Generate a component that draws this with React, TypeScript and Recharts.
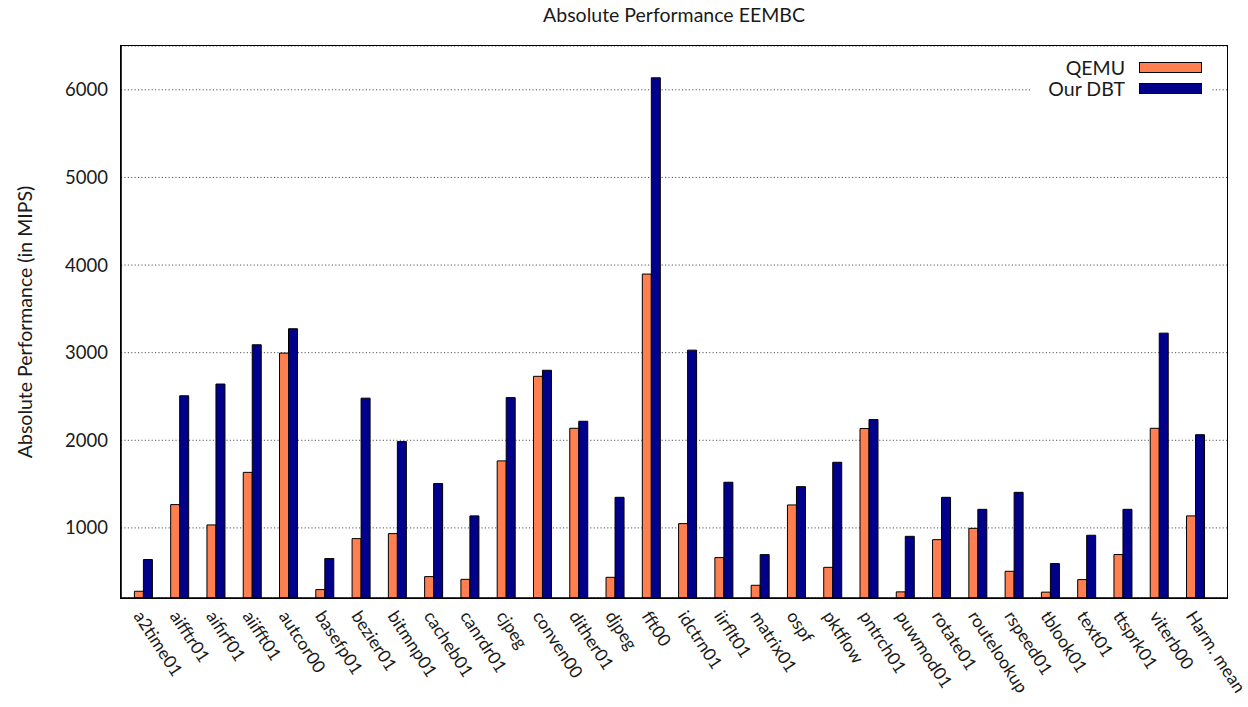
import { BarChart, Bar, XAxis, YAxis, CartesianGrid } from 'recharts'

const CATEGORIES = [
  'a2time01', 'aifftr01', 'aifirf01', 'aiifft01', 'autcor00', 'basefp01', 'bezier01', 'bitmnp01',
  'cacheb01', 'canrdr01', 'cjpeg', 'conven00', 'dither01', 'djpeg', 'fft00', 'idctrn01',
  'iirflt01', 'matrix01', 'ospf', 'pktflow', 'pntrch01', 'puwmod01', 'rotate01', 'routelookup',
  'rspeed01', 'tblook01', 'text01', 'ttsprk01', 'viterb00', 'Harm. mean',
]

const QEMU = [
  277, 1266, 1034, 1634, 2995, 296, 878, 935, 444, 413, 1765, 2730, 2137, 436, 3897,
  1049, 661, 345, 1262, 550, 2134, 270, 866, 995, 505, 267, 410, 696, 2137, 1137,
]

const OUR_DBT = [
  639, 2508, 2642, 3090, 3273, 650, 2481, 1985, 1506, 1137, 2487, 2799, 2217, 1349, 6137,
  3029, 1521, 695, 1471, 1749, 2236, 904, 1349, 1212, 1406, 593, 916, 1212, 3223, 2064,
]

const Y_TICKS = [1000, 2000, 3000, 4000, 5000, 6000]

const SERIES = [
  { key: 'qemu', name: 'QEMU', color: '#FF7F50' },
  { key: 'dbt', name: 'Our DBT', color: '#00008B' },
]

const FONT = 'Lato, "DejaVu Sans", sans-serif'
const TEXT = '#1a1a1a'
const FS = 19.5

// plot box in page pixels
const PLOT = { left: 121, top: 46, right: 1227, bottom: 598 }

const data = CATEGORIES.map((name, i) => ({ name, qemu: QEMU[i], dbt: OUR_DBT[i] }))

function XTick({ x, y, payload }: any) {
  const ax = x - 10.5
  const ay = y + 18
  return (
    <text
      x={ax}
      y={ay}
      transform={`rotate(57, ${ax}, ${ay})`}
      textAnchor="start"
      fontSize={17.5}
      fontFamily={FONT}
      fill={TEXT}
    >
      {payload.value}
    </text>
  )
}

// legend sits over the plot, white box hides the grid line behind it
function LegendBox() {
  return (
    <div style={{ position: 'absolute', top: 57, left: 1030, width: 182, background: '#fff' }}>
      {SERIES.map((s) => (
        <div
          key={s.key}
          style={{ display: 'flex', justifyContent: 'flex-end', alignItems: 'center', height: 21, paddingRight: 10 }}
        >
          <span style={{ fontFamily: FONT, fontSize: FS, color: TEXT }}>{s.name}</span>
          <span
            style={{
              display: 'inline-block',
              width: 63,
              height: 11,
              marginLeft: 14,
              boxSizing: 'border-box',
              border: '1.2px solid #000',
              background: s.color,
            }}
          />
        </div>
      ))}
    </div>
  )
}

export default function App() {
  return (
    <div style={{ position: 'absolute', left: 0, top: 0, width: 1248, height: 707, background: '#fff' }}>
      <div
        style={{
          position: 'absolute',
          top: 0,
          left: PLOT.left,
          width: PLOT.right - PLOT.left,
          lineHeight: '30px',
          textAlign: 'center',
          fontFamily: FONT,
          fontSize: FS,
          color: TEXT,
        }}
      >
        Absolute Performance EEMBC
      </div>
      <BarChart
        width={1248}
        height={707}
        data={data}
        margin={{ top: PLOT.top, right: 1248 - PLOT.right, left: PLOT.left - 60, bottom: 9 }}
        barGap={0}
      >
        <CartesianGrid vertical={false} stroke="#555" strokeDasharray="1.2 2.2" />
        <XAxis
          dataKey="name"
          interval={0}
          height={100}
          padding={{ left: 4.4, right: 13.2 }}
          axisLine={{ stroke: '#000', strokeWidth: 1.6 }}
          tickLine={false}
          tickSize={0}
          tickMargin={0}
          tick={<XTick />}
        />
        <YAxis
          width={60}
          domain={[200, 6500]}
          allowDataOverflow
          ticks={Y_TICKS}
          axisLine={{ stroke: '#000', strokeWidth: 1.6 }}
          tickLine={false}
          tickSize={0}
          tickMargin={13}
          tick={{ fontSize: 18.5, fontFamily: FONT, fill: TEXT }}
          label={({ viewBox }: any) => {
            const cx = 24
            const cy = viewBox.y + viewBox.height / 2
            return (
              <text
                x={cx}
                y={cy}
                transform={`rotate(-90, ${cx}, ${cy})`}
                textAnchor="middle"
                dominantBaseline="central"
                fontSize={FS}
                fontFamily={FONT}
                fill={TEXT}
              >
                Absolute Performance (in MIPS)
              </text>
            )
          }}
        />
        {SERIES.map((s) => (
          <Bar
            key={s.key}
            dataKey={s.key}
            name={s.name}
            fill={s.color}
            stroke="#000"
            strokeWidth={1}
            barSize={9}
            isAnimationActive={false}
          />
        ))}
      </BarChart>
      {/* full frame around the plot like gnuplot's border */}
      <div
        style={{
          position: 'absolute',
          left: PLOT.left - 0.8,
          top: PLOT.top - 0.8,
          width: PLOT.right - PLOT.left,
          height: PLOT.bottom - PLOT.top,
          border: '1.6px solid #000',
          pointerEvents: 'none',
        }}
      />
      <LegendBox />
    </div>
  )
}
